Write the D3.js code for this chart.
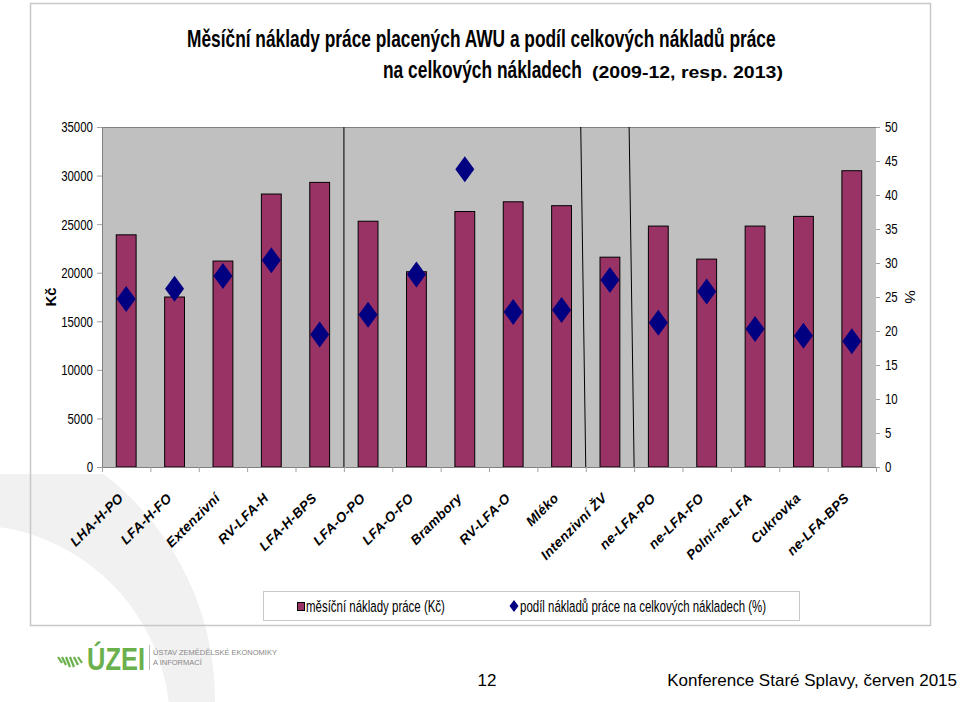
<!DOCTYPE html>
<html>
<head>
<meta charset="utf-8">
<script src="https://cdn.jsdelivr.net/npm/d3@7"></script>
<style>
  html, body { margin: 0; padding: 0; background: #ffffff; }
  svg { display: block; }
</style>
</head>
<body>
<svg id="chart" width="960" height="702"></svg>
<script>
// ---------- DATA ----------
const categories = ["LHA-H-PO", "LFA-H-FO", "Extenzivní", "RV-LFA-H", "LFA-H-BPS",
  "LFA-O-PO", "LFA-O-FO", "Brambory", "RV-LFA-O", "Mléko", "Intenzivní ŽV",
  "ne-LFA-PO", "ne-LFA-FO", "Polní-ne-LFA", "Cukrovka", "ne-LFA-BPS"];
const laborCostCZK = [23900, 17500, 21200, 28100, 29300, 25300, 20100, 26300,
  27300, 26900, 21600, 24800, 21400, 24800, 25800, 30500];
const laborSharePct = [24.7, 26.2, 28.1, 30.4, 19.5, 22.4, 28.3, 43.8,
  22.8, 23.1, 27.5, 21.2, 25.8, 20.3, 19.3, 18.5];
const leftTicks = [0, 5000, 10000, 15000, 20000, 25000, 30000, 35000];
const rightTicks = [0, 5, 10, 15, 20, 25, 30, 35, 40, 45, 50];
const separatorAfter = [5, 10, 11];
const titleLine1 = "Měsíční náklady práce placených AWU a podíl celkových nákladů práce";
const titleLine2a = "na celkových nákladech";
const titleLine2b = "(2009-12, resp. 2013)";
const legendLabels = ["měsíční náklady práce (Kč)", "podíl nákladů práce na celkových nákladech (%)"];
const leftAxisTitle = "Kč";
const rightAxisTitle = "%";
const footerPage = "12";
const footerConf = "Konference Staré Splavy, červen 2015";

// ---------- STYLE ----------
const ARIAL = "'Liberation Sans', Arial, Helvetica, sans-serif";
const NARROW_SX = 0.74;   // horizontal squeeze to imitate the condensed face
const barColor = "#993366";
const diamondColor = "#000080";
const plotBg = "#c0c0c0";

const svg = d3.select("#chart");

// helper: place a text with horizontal squeeze
function narrowText(parent, x, y, str, size, opts = {}) {
  const t = parent.append("text")
    .attr("font-family", ARIAL).attr("font-size", size)
    .attr("font-weight", opts.weight || "normal")
    .attr("text-anchor", opts.anchor || "start")
    .attr("fill", opts.fill || "#000")
    .text(str);
  let sx = opts.sx || NARROW_SX;
  if (opts.fitWidth) sx = opts.fitWidth / t.node().getComputedTextLength();
  t.attr("transform", `translate(${x},${y}) scale(${sx},1)`);
  return sx;
}
function squeezeAxisText(g) {
  g.selectAll("text").attr("font-family", ARIAL).attr("font-size", 15.5).attr("fill", "#000")
    .each(function () {
      const t = d3.select(this);
      const tx = +t.attr("x");
      t.attr("x", null).attr("transform", `translate(${tx},0) scale(${NARROW_SX},1)`);
    });
}

// decorative watermark (bottom-left)
const defs = svg.append("defs");
defs.append("clipPath").attr("id", "wmclip")
  .append("rect").attr("x", 0).attr("y", 474).attr("width", 400).attr("height", 240);
svg.append("path")
  .attr("clip-path", "url(#wmclip)")
  .attr("fill-rule", "evenodd")
  .attr("d", (() => {
    const p = d3.path();
    p.moveTo(-70 + 285, 700); p.arc(-70, 700, 285, 0, 2 * Math.PI);
    p.moveTo(-30 + 200, 725); p.arc(-30, 725, 200, 0, 2 * Math.PI);
    return p.toString();
  })())
  .attr("fill", "#f1f1f1");

// outer frame
svg.append("rect")
  .attr("x", 30.5).attr("y", 3.5).attr("width", 900).attr("height", 622)
  .attr("fill", "none").attr("stroke", "#c8c8c8").attr("stroke-width", 1.5);

// ---------- SCALES ----------
const plot = {left: 102, right: 876, top: 127, bottom: 467};
const x = d3.scaleBand().domain(categories).range([plot.left, plot.right]).padding(0);
const xIdx = d3.scaleLinear().domain([0, categories.length]).range([plot.left, plot.right]);
const yL = d3.scaleLinear().domain([0, 35000]).range([plot.bottom, plot.top]);
const yR = d3.scaleLinear().domain([0, 50]).range([plot.bottom, plot.top]);

// plot background
svg.append("rect")
  .attr("x", plot.left).attr("y", plot.top)
  .attr("width", plot.right - plot.left).attr("height", plot.bottom - plot.top)
  .attr("fill", plotBg);
svg.append("line")
  .attr("x1", plot.left).attr("x2", plot.right)
  .attr("y1", plot.top + 0.5).attr("y2", plot.top + 0.5)
  .attr("stroke", "#808080").attr("stroke-width", 1);

// separators
separatorAfter.forEach((k, i) => {
  const xb = xIdx(k);
  const slant = i === 0 ? 0 : 5;
  svg.append("line")
    .attr("x1", xb - slant).attr("y1", plot.top)
    .attr("x2", xb).attr("y2", plot.bottom)
    .attr("stroke", i === 0 ? "#444" : "#000")
    .attr("stroke-width", i === 0 ? 1.6 : 1);
});

// bars
const bw = x.bandwidth() * 0.41;
svg.append("g").selectAll("rect").data(categories).join("rect")
  .attr("x", d => x(d) + (x.bandwidth() - bw) / 2)
  .attr("y", (d, i) => yL(laborCostCZK[i]))
  .attr("width", bw)
  .attr("height", (d, i) => plot.bottom - yL(laborCostCZK[i]))
  .attr("fill", barColor)
  .attr("stroke", "#000").attr("stroke-width", 1);

// diamonds
const dw = 9.5, dh = 13;
const diamondPath = `M0,${-dh}L${dw},0L0,${dh}L${-dw},0Z`;
svg.append("g").selectAll("path").data(categories).join("path")
  .attr("d", diamondPath)
  .attr("transform", (d, i) => `translate(${x(d) + x.bandwidth() / 2},${yR(laborSharePct[i])})`)
  .attr("fill", diamondColor);

// left axis
const gL = svg.append("g").attr("transform", `translate(${plot.left},0)`)
  .call(d3.axisLeft(yL).tickValues(leftTicks).tickSize(5).tickPadding(4).tickFormat(d3.format("d")));
gL.select(".domain").attr("stroke", "#808080");
gL.selectAll(".tick line").attr("stroke", "#a0a0a0");
squeezeAxisText(gL);

// right axis
const gR = svg.append("g").attr("transform", `translate(${plot.right},0)`)
  .call(d3.axisRight(yR).tickValues(rightTicks).tickSize(4).tickPadding(5));
gR.select(".domain").attr("stroke", "none");
gR.selectAll(".tick line").attr("stroke", "#a0a0a0");
squeezeAxisText(gR);

// bottom axis (category boundaries)
const gB = svg.append("g").attr("transform", `translate(0,${plot.bottom})`)
  .call(d3.axisBottom(xIdx).tickValues(d3.range(categories.length + 1)).tickSize(5).tickFormat(""));
gB.select(".domain").attr("stroke", "#808080");
gB.selectAll(".tick line").attr("stroke", "#a0a0a0");

// category labels
svg.append("g").selectAll("text").data(categories).join("text")
  .attr("transform", d => `translate(${x(d) + x.bandwidth() / 2 - 2},${499}) rotate(-45)`)
  .attr("text-anchor", "end")
  .attr("font-family", ARIAL).attr("font-size", 13.5)
  .attr("font-weight", "bold").attr("font-style", "italic")
  .attr("letter-spacing", 0.3)
  .text(d => d);

// axis titles
svg.append("text")
  .attr("transform", "translate(56,297) rotate(-90)")
  .attr("text-anchor", "middle").attr("font-family", ARIAL)
  .attr("font-weight", "bold").attr("font-size", 15).text(leftAxisTitle);
svg.append("text")
  .attr("transform", "translate(905,297) rotate(90)")
  .attr("text-anchor", "middle").attr("font-family", ARIAL)
  .attr("font-size", 15).text(rightAxisTitle);

// title
narrowText(svg, 187, 47, titleLine1, 24, {weight: "bold", fitWidth: 589});
narrowText(svg, 383, 78, titleLine2a, 24, {weight: "bold", fitWidth: 199});
narrowText(svg, 592, 78, titleLine2b, 16.5, {weight: "bold", fitWidth: 191});

// legend
const lg = svg.append("g");
lg.append("rect").attr("x", 263.5).attr("y", 591.5).attr("width", 536).attr("height", 29)
  .attr("fill", "#fff").attr("stroke", "#c8c8c8");
lg.append("rect").attr("x", 297.5).attr("y", 602.5).attr("width", 7).attr("height", 8)
  .attr("fill", barColor).attr("stroke", "#000").attr("stroke-width", 1);
const lsx = narrowText(lg, 306, 612, legendLabels[0], 16.5, {fitWidth: 139});
lg.append("path").attr("d", "M0,-6L4.5,0L0,6L-4.5,0Z")
  .attr("transform", "translate(514,606)").attr("fill", diamondColor);
narrowText(lg, 520, 612, legendLabels[1], 16.5, {sx: lsx});

// footer logo
const logo = svg.append("g");
const fan = d3.range(6);
logo.selectAll("line.fan").data(fan).join("line")
  .attr("x1", d => 58 + d * 4).attr("y1", 657)
  .attr("x2", d => 62 + d * 4).attr("y2", d => 668 - Math.abs(d - 2.5) * 2)
  .attr("stroke", "#6ab04c").attr("stroke-width", 2.2);
narrowText(logo, 87, 670, "ÚZEI", 31, {weight: "bold", fill: "#6ab04c", fitWidth: 58});
logo.append("line").attr("x1", 149.5).attr("x2", 149.5).attr("y1", 645).attr("y2", 670)
  .attr("stroke", "#bbb");
logo.append("text").attr("x", 153).attr("y", 655).attr("font-family", ARIAL)
  .attr("font-size", 7.5).attr("fill", "#888").text("ÚSTAV ZEMĚDĚLSKÉ EKONOMIKY");
logo.append("text").attr("x", 153).attr("y", 665).attr("font-family", ARIAL)
  .attr("font-size", 7.5).attr("fill", "#888").text("A INFORMACÍ");

svg.append("text").attr("x", 487).attr("y", 686).attr("text-anchor", "middle")
  .attr("font-family", ARIAL).attr("font-size", 17).text(footerPage);
svg.append("text").attr("x", 957).attr("y", 686).attr("text-anchor", "end")
  .attr("font-family", ARIAL).attr("font-size", 17).text(footerConf);
</script>
</body>
</html>
